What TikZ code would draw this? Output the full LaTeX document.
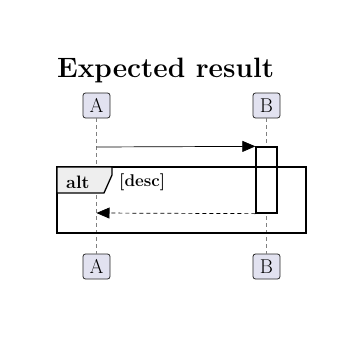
\documentclass[tikz,border=0pt]{standalone}
\usetikzlibrary{arrows.meta}
\definecolor{partfill}{HTML}{E2E2F0}
\definecolor{tabfill}{HTML}{EEEEEE}
\tikzset{
    participant/.style={draw=black!85, fill=partfill, line width=0.8pt, rounded corners=2.5pt, minimum width=27pt, minimum height=25pt, inner sep=0pt, font=\fontsize{20}{20}\selectfont},
    lifeline/.style={gray, line width=0.6pt, dash pattern=on 4pt off 3pt},
    activation/.style={draw, fill=white, line width=1.3pt, minimum width=21pt, minimum height=66pt, inner sep=0pt},
    syncmsg/.style={line width=0.7pt, -{Triangle[length=13pt,width=11pt]}},
    replymsg/.style={line width=0.7pt, -{Triangle[length=13pt,width=11pt]}, dash pattern=on 4pt off 3pt},
}
\begin{document}
\begin{tikzpicture}[x=1pt, y=-1pt]
        \useasboundingbox (0,0) rectangle (363,345);

        % --- title ---
        \node[anchor=base west, inner sep=0pt, font=\bfseries\fontsize{28}{28}\selectfont] (title) at (57,77) {Expected result};

        % --- participants ---
        \node[participant] (topA) at (96.5,105.5) {A};
        \node[participant] (topB) at (266.5,105.5) {B};
        \node[participant] (botA) at (96.5,266.5) {A};
        \node[participant] (botB) at (266.5,266.5) {B};

        % lifelines
        \draw[lifeline] (topA) -- (botA);
        \draw[lifeline] (topB) -- (botB);

        % activation on B
        \node[activation] (actB) at (266.5,180) {};

        % --- alt frame ---
        \draw[line width=1.3pt] (57,167) rectangle (306,233);
        \filldraw[fill=tabfill, line width=1.3pt] (57,167) -- (112,167) -- (112,175) -- (104,193) -- (57,193) -- cycle;
        \node[anchor=base west, inner sep=0pt, font=\bfseries\fontsize{18}{18}\selectfont] (altlbl) at (66,188) {alt};
        \node[anchor=base west, inner sep=0pt, font=\bfseries\fontsize{17}{17}\selectfont] (guard) at (119,186) {[desc]};

        % --- messages ---
        \coordinate (srcA) at (96.5,147);
        \coordinate (dstA) at (96.5,213);
        \draw[syncmsg] (srcA) -- (actB.north west);
        \draw[replymsg] (actB.south west) -- (dstA);
\end{tikzpicture}
\end{document}
